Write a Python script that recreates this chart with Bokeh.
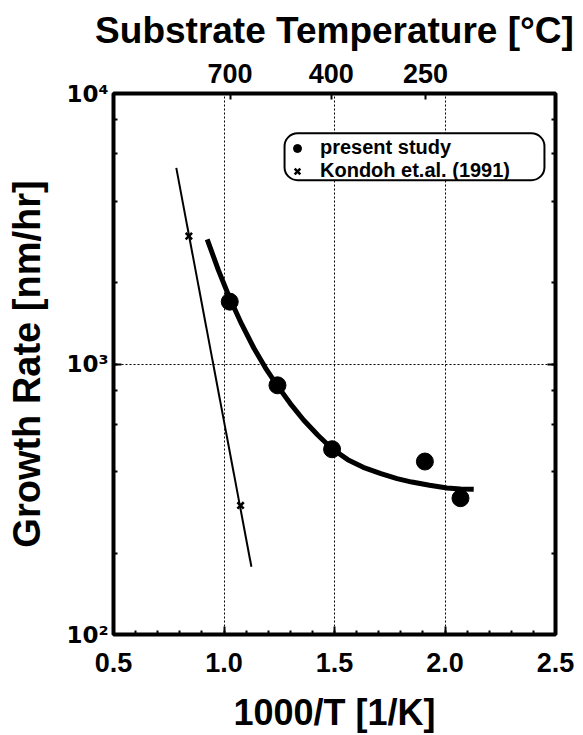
from bokeh.plotting import figure
from bokeh.models import (LinearAxis, LogAxis, FixedTicker, SingleIntervalTicker,
                          LogTicker, Legend, LegendItem, BoxAnnotation)
from bokeh.embed import file_html
from bokeh.resources import INLINE

# ---------------- data ----------------
study_x = [1.026, 1.242, 1.489, 1.909, 2.070]
study_y = [1700, 834, 484, 436, 319]

fit_x = [0.924, 0.975, 1.025, 1.08, 1.135, 1.188, 1.242, 1.30, 1.36, 1.425, 1.489,
         1.56, 1.63, 1.71, 1.783, 1.85, 1.93, 2.009, 2.07, 2.13]
fit_y = [2891, 2218, 1758, 1403, 1146, 966, 830, 714, 621, 545, 486,
         443, 415, 393, 377, 366, 356, 348, 345, 344]

kondoh_x = [0.841, 1.075]
kondoh_y = [2970, 300]
kondoh_line_x = [0.784, 1.124]
kondoh_line_y = [5310, 178]

temp_labels_c = [700, 400, 250]
y_ticks = [100, 1000, 10000]
y_tick_labels = ["10\u00b2", "10\u00b3", "10\u2074"]

legend_labels = ["present study", "Kondoh et.al. (1991)"]

FONT = "Liberation Sans"

p = figure(width=583, height=735, x_range=(0.5, 2.5), y_range=(100, 10000),
           y_axis_type="log", output_backend="svg", toolbar_location=None,
           min_border_left=113, min_border_right=28, min_border_top=93,
           min_border_bottom=99, background_fill_color="white",
           border_fill_color="white")
p.outline_line_color = "black"
p.outline_line_width = 4

# grids
for g in (p.xgrid, p.ygrid):
    g.grid_line_color = "black"
    g.grid_line_dash = "2 2"
    g.grid_line_width = 1

# bottom axis
xa = p.xaxis[0]
xa.ticker = SingleIntervalTicker(interval=0.5, num_minor_ticks=5)
xa.major_label_overrides = {0.5: "0.5", 1.0: "1.0", 1.5: "1.5", 2.0: "2.0", 2.5: "2.5"}
xa.axis_label = "1000/T [1/K]"

# left axis
ya = p.yaxis[0]
ya.ticker = LogTicker()
ya.major_label_overrides = dict(zip(y_ticks, y_tick_labels))
ya.axis_label = "Growth Rate [nm/hr]"

# top axis (temperature)
top_ticks = [1000.0 / (t + 273.15) for t in temp_labels_c]
top = LinearAxis(ticker=FixedTicker(ticks=top_ticks),
                 major_label_overrides={k: str(t) for k, t in zip(top_ticks, temp_labels_c)},
                 axis_label="Substrate Temperature [\u00b0C]")
p.add_layout(top, "above")

# right axis (ticks only)
right = LogAxis(ticker=LogTicker(), major_label_text_font_size="1px",
                major_label_text_alpha=0, major_label_standoff=0)
p.add_layout(right, "right")

for ax in (xa, ya, top, right):
    ax.axis_line_color = None
    ax.major_tick_in = 8
    ax.major_tick_out = 0
    ax.minor_tick_in = 4
    ax.minor_tick_out = 0
    ax.major_tick_line_width = 2
    ax.minor_tick_line_width = 2
    ax.major_label_text_font = FONT
    ax.major_label_text_font_style = "bold"
    ax.axis_label_text_font = FONT
    ax.axis_label_text_font_style = "bold"
    ax.axis_label_text_color = "black"
    ax.axis_label_text_font_size = "36px"

for ax in (xa, ya, top):
    ax.major_label_text_color = "black"

top.minor_tick_in = 0
top.major_tick_in = 6
xa.major_label_text_font_size = "27px"
xa.major_label_standoff = 18
xa.axis_label_standoff = 17
ya.major_label_text_font = "DejaVu Sans"
ya.major_label_text_font_size = "23px"
ya.major_label_standoff = 5
ya.axis_label_standoff = 15
ya.axis_label_text_font_size = "38px"
top.major_label_text_font_size = "27px"
top.major_label_standoff = 11
top.axis_label_standoff = 10
top.axis_label_text_font_size = "37px"

# data glyphs
p.line(kondoh_line_x, kondoh_line_y, line_color="black", line_width=2)
r_kx = p.scatter(kondoh_x, kondoh_y, marker="x", size=9, line_color="black", line_width=2.5)
p.line(fit_x, fit_y, line_color="black", line_width=5, line_join="round", line_cap="butt")
r_st = p.scatter(study_x, study_y, marker="circle", size=17, fill_color="black", line_color="black")

# rounded legend frame
frame_box = BoxAnnotation(left=1.274, right=2.450, top=7124, bottom=4783,
                          fill_color="white", fill_alpha=1,
                          line_color="black", line_width=2, line_alpha=1)
if "border_radius" in BoxAnnotation.properties():
    frame_box.border_radius = 13
p.add_layout(frame_box)

legend_style = dict(margin=0, padding=0, spacing=0,
                    glyph_width=26, glyph_height=20, label_standoff=10, label_width=224,
                    label_text_font=FONT, label_text_font_style="bold",
                    label_text_font_size="20px", label_text_color="black",
                    border_line_color=None, background_fill_alpha=0)
for lbl, rend, loc_y in ((legend_labels[0], r_st, 475), (legend_labels[1], r_kx, 452)):
    p.add_layout(Legend(items=[LegendItem(label=lbl, renderers=[rend])],
                        location=(171, loc_y), **legend_style))

open("out.html", "w").write(file_html(p, INLINE))
